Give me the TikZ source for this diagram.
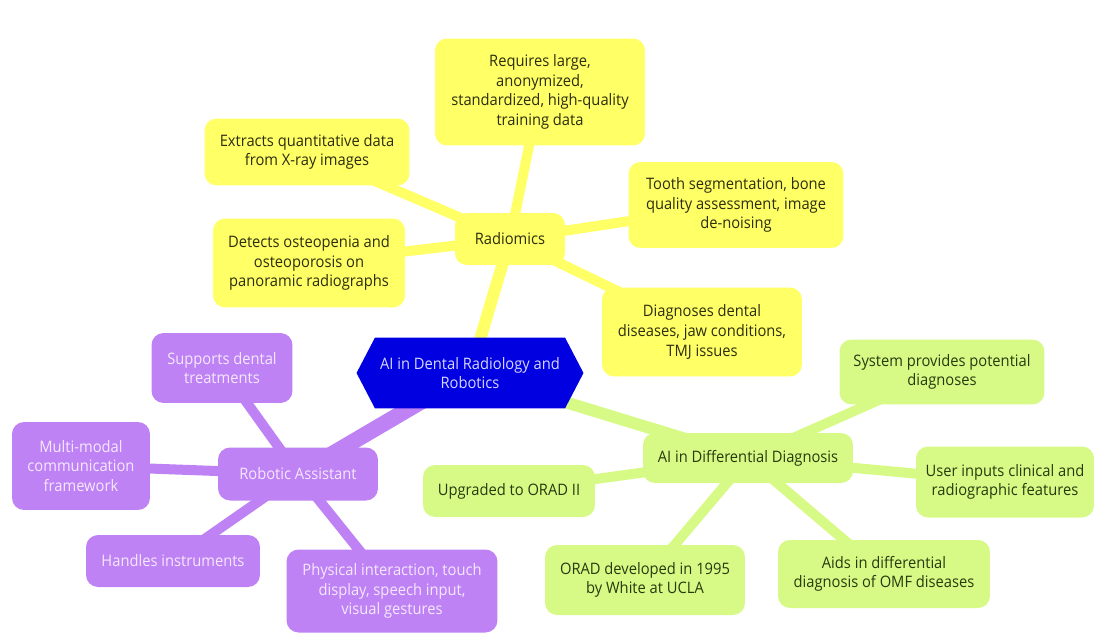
\documentclass[tikz,border=0pt]{standalone}
\usepackage{fontspec}
\setmainfont{Open Sans}[FakeStretch=0.93]
\usetikzlibrary{shapes.symbols,backgrounds}

\definecolor{radyellow}{RGB}{255,255,102}
\definecolor{robpurple}{RGB}{190,130,245}
\definecolor{diffgreen}{RGB}{215,250,135}
\definecolor{rootblue}{RGB}{0,0,225}
\definecolor{radtext}{RGB}{45,45,15}
\definecolor{difftext}{RGB}{40,58,12}
\definecolor{robtext}{RGB}{245,232,255}
\definecolor{roottext}{RGB}{215,215,255}

\begin{document}
\begin{tikzpicture}[x=0.02cm, y=-0.02cm,
    box/.style={rounded corners=0.24cm, align=center, inner sep=2pt,
      font=\fontsize{9}{11.2}\selectfont},
    radbox/.style={box, fill=radyellow, text=radtext},
    robbox/.style={box, fill=robpurple, text=robtext},
    diffbox/.style={box, fill=diffgreen, text=difftext},
    branch/.style={line width=6.8pt},
    leaf/.style={line width=5.7pt}]

    \useasboundingbox (0,0) rectangle (1094,635);

    \node[signal, signal to=west and east, signal pointer angle=125,
      fill=rootblue, text=roottext, align=center,
      font=\fontsize{9}{11.2}\selectfont,
      minimum width=4.54cm, minimum height=1.42cm, inner sep=2pt]
      (root) at (470,373) {AI in Dental Radiology and\\Robotics};

    \node[radbox, minimum width=2.2cm, minimum height=1.04cm] (rad) at (510,239) {Radiomics};
    \node[radbox, minimum width=4.2cm, minimum height=2.14cm] (req) at (540,92)
      {Requires large,\\anonymized,\\standardized, high-quality\\training data};
    \node[radbox, minimum width=4.1cm, minimum height=1.34cm] (ext) at (307,152)
      {Extracts quantitative data\\from X-ray images};
    \node[radbox, minimum width=4.3cm, minimum height=1.72cm] (tooth) at (736,205)
      {Tooth segmentation, bone\\quality assessment, image\\de-noising};
    \node[radbox, minimum width=3.84cm, minimum height=1.78cm] (det) at (309,263)
      {Detects osteopenia and\\osteoporosis on\\panoramic radiographs};
    \node[radbox, minimum width=4.0cm, minimum height=1.78cm] (diag) at (702,332)
      {Diagnoses dental\\diseases, jaw conditions,\\TMJ issues};

    \node[robbox, minimum width=3.2cm, minimum height=1.06cm] (rob) at (298,474) {Robotic Assistant};
    \node[robbox, minimum width=2.82cm, minimum height=1.4cm] (sup) at (222,368)
      {Supports dental\\treatments};
    \node[robbox, minimum width=2.76cm, minimum height=1.76cm] (multi) at (81,466)
      {Multi-modal\\communication\\framework};
    \node[robbox, minimum width=3.48cm, minimum height=1.04cm] (hand) at (173,561)
      {Handles instruments};
    \node[robbox, minimum width=4.22cm, minimum height=1.66cm] (phys) at (392,591)
      {Physical interaction, touch\\display, speech input,\\visual gestures};

    \node[diffbox, minimum width=4.2cm, minimum height=1.0cm] (diff) at (748,458)
      {AI in Differential Diagnosis};
    \node[diffbox, minimum width=4.1cm, minimum height=1.3cm] (sys) at (942,372)
      {System provides potential\\diagnoses};
    \node[diffbox, minimum width=3.56cm, minimum height=1.42cm] (user) at (1005,482)
      {User inputs clinical and\\radiographic features};
    \node[diffbox, minimum width=3.44cm, minimum height=1.04cm] (upg) at (509,491)
      {Upgraded to ORAD II};
    \node[diffbox, minimum width=4.0cm, minimum height=1.4cm] (orad) at (645,580)
      {ORAD developed in 1995\\by White at UCLA};
    \node[diffbox, minimum width=4.24cm, minimum height=1.36cm] (aids) at (884,574)
      {Aids in differential\\diagnosis of OMF diseases};

    \begin{scope}[on background layer]

      \draw[branch, radyellow] (root.center) -- (rad.center);
      \draw[branch, robpurple, line width=9pt] (root.center) -- (rob.center);
      \draw[branch, diffgreen] (root.center) -- (diff.center);

      \foreach \leafnode in {req, ext, tooth, det, diag}
        \draw[leaf, radyellow] (rad.center) -- (\leafnode.center);

      \foreach \leafnode in {sup, multi, hand, phys}
        \draw[leaf, robpurple] (rob.center) -- (\leafnode.center);

      \foreach \leafnode in {sys, user, upg, orad, aids}
        \draw[leaf, diffgreen] (diff.center) -- (\leafnode.center);

    \end{scope}

  \end{tikzpicture}
\end{document}
